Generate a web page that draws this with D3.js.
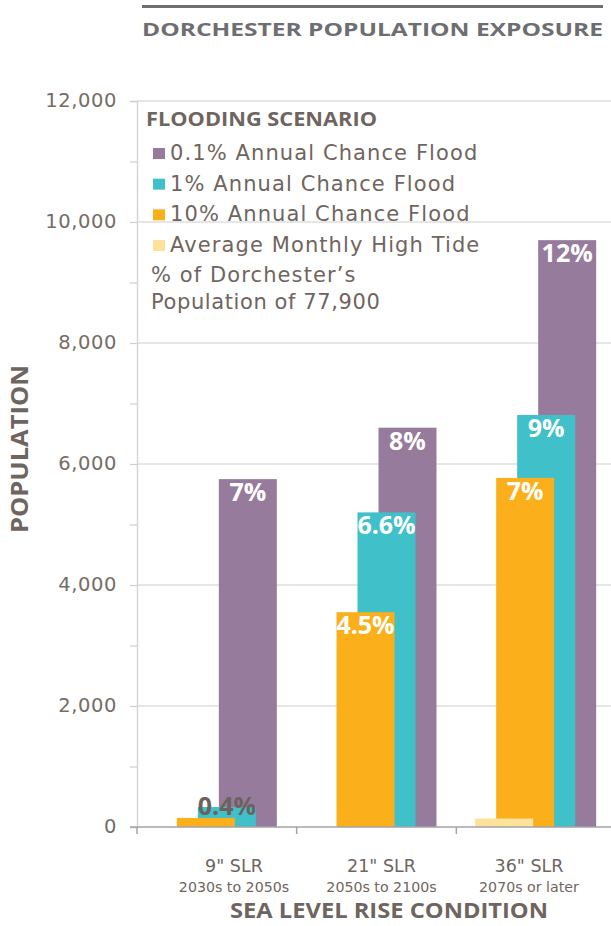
<!DOCTYPE html>
<html><head><meta charset="utf-8">
<script src="https://cdn.jsdelivr.net/npm/d3@7"></script>
<style>body{margin:0;background:#fff}svg{display:block}</style>
</head><body>
<script>
const categories = ['9" SLR', '21" SLR', '36" SLR'];
const categorySubs = ['2030s to 2050s', '2050s to 2100s', '2070s or later'];
const seriesNames = ['Average Monthly High Tide', '10% Annual Chance Flood', '1% Annual Chance Flood', '0.1% Annual Chance Flood'];
const highTide = [0, 0, 140];
const flood10 = [150, 3550, 5770];
const flood1 = [330, 5200, 6810];
const flood01 = [5750, 6600, 9700];
const labels10 = [null, '4.5%', '7%'];
const labels1 = ['0.4%', '6.6%', '9%'];
const labels01 = ['7%', '8%', '12%'];
const yTicks = [0, 2000, 4000, 6000, 8000, 10000, 12000];
const colors = ['#fde29c', '#fbaf1a', '#40c0c9', '#977b9d'];

const W = 611, H = 926;
const svg = d3.select('body').append('svg').attr('width', W).attr('height', H);
const txt = '#6f6560';

const y = d3.scaleLinear().domain([0, 12000]).range([827, 101]);
const x = d3.scaleBand().domain(categories).range([137, 616]).padding(0);
const xSub = d3.scalePoint().domain(seriesNames).range([-61, 2]);
const xLab = d3.scalePoint().domain(categories).range([234, 529]);
const barW = 58;

// title
svg.append('line').attr('x1', 142).attr('x2', 603).attr('y1', 6.5).attr('y2', 6.5)
  .attr('stroke', '#6d6e71').attr('stroke-width', 3);
svg.append('text').attr('x', 142).attr('y', 36).attr('textLength', 461).attr('lengthAdjust', 'spacingAndGlyphs')
  .attr('font-family', 'Open Sans').attr('font-weight', 700).attr('font-size', 18.5).attr('fill', '#6d6e71')
  .text('DORCHESTER POPULATION EXPOSURE');

// gridlines
svg.append('g').selectAll('line').data(yTicks.filter(d => d > 0)).join('line')
  .attr('x1', 137).attr('x2', W).attr('y1', d => y(d)).attr('y2', d => y(d))
  .attr('stroke', '#dedede').attr('stroke-width', 1.5);

// y axis
const minor = d3.range(0, 12001, 1000);
const yAxis = svg.append('g').attr('transform', 'translate(137,0)')
  .call(d3.axisLeft(y).tickValues(minor).tickSize(7).tickPadding(13)
    .tickFormat(d => d % 2000 === 0 ? d3.format(',')(d) : ''));
yAxis.select('.domain').attr('stroke', '#d6d6d6').attr('stroke-width', 1.5);
yAxis.selectAll('.tick line').attr('stroke', '#cfcfcf').attr('stroke-width', 1.2);
yAxis.selectAll('.tick text').attr('font-family', 'DejaVu Sans').attr('font-size', 19.5)
  .attr('letter-spacing', 0.6).attr('fill', '#766c67').attr('dy', '0.3em');

svg.append('text').attr('transform', 'translate(28,449) rotate(-90)').attr('text-anchor', 'middle')
  .attr('textLength', 168).attr('lengthAdjust', 'spacingAndGlyphs')
  .attr('font-family', 'Open Sans').attr('font-weight', 700).attr('font-size', 24).attr('fill', txt)
  .text('POPULATION');

// bars
const seriesVals = [highTide, flood10, flood1, flood01];
const seriesLabels = [categories.map(() => null), labels10, labels1, labels01];
const drawOrder = [3, 2, 1, 0];
drawOrder.forEach(si => {
  const data = categories.map((c, i) => ({c, v: seriesVals[si][i], l: seriesLabels[si][i]}));
  svg.append('g').selectAll('rect').data(data.filter(d => d.v > 0)).join('rect')
    .attr('x', d => x(d.c) + x.bandwidth() / 2 + xSub(seriesNames[si]))
    .attr('y', d => y(d.v)).attr('width', barW).attr('height', d => y(0) - y(d.v))
    .attr('fill', colors[si]);
});
drawOrder.forEach(si => {
  const data = categories.map((c, i) => ({c, v: seriesVals[si][i], l: seriesLabels[si][i]}));
  svg.append('g').selectAll('text').data(data.filter(d => d.l)).join('text')
    .attr('x', d => x(d.c) + x.bandwidth() / 2 + xSub(seriesNames[si]) + barW / 2)
    .attr('y', d => (y(0) - y(d.v) > 40) ? y(d.v) + 22 : y(d.v) + 8)
    .attr('text-anchor', 'middle').attr('font-family', 'Open Sans').attr('font-weight', 700)
    .attr('font-size', 25)
    .attr('fill', d => (y(0) - y(d.v) > 40) ? '#ffffff' : '#6b625e')
    .text(d => d.l);
});

// x axis
svg.append('line').attr('x1', 130).attr('x2', W).attr('y1', 827).attr('y2', 827)
  .attr('stroke', '#a3a3a3').attr('stroke-width', 1.5);
svg.append('g').selectAll('line').data(categories).join('line')
  .attr('x1', d => x(d)).attr('x2', d => x(d)).attr('y1', 827).attr('y2', 834)
  .attr('stroke', '#a3a3a3').attr('stroke-width', 1.5);
svg.append('g').selectAll('text').data(categories).join('text')
  .attr('x', d => xLab(d)).attr('y', 872).attr('text-anchor', 'middle')
  .attr('font-family', 'DejaVu Sans').attr('font-size', 17.5).attr('fill', txt).text(d => d);
svg.append('g').selectAll('text').data(categorySubs).join('text')
  .attr('x', (d, i) => xLab(categories[i])).attr('y', 892).attr('text-anchor', 'middle')
  .attr('font-family', 'DejaVu Sans').attr('font-size', 14.2).attr('fill', txt).text(d => d);
svg.append('text').attr('x', 389).attr('y', 918).attr('text-anchor', 'middle')
  .attr('textLength', 318).attr('lengthAdjust', 'spacingAndGlyphs')
  .attr('font-family', 'Open Sans').attr('font-weight', 700).attr('font-size', 21).attr('fill', txt)
  .text('SEA LEVEL RISE CONDITION');

// legend
const lg = svg.append('g');
lg.append('text').attr('x', 146).attr('y', 126).attr('textLength', 231).attr('lengthAdjust', 'spacingAndGlyphs')
  .attr('font-family', 'Open Sans').attr('font-weight', 700).attr('font-size', 20).attr('fill', txt)
  .text('FLOODING SCENARIO');
const legendOrder = [3, 2, 1, 0];
const rowY = d3.scalePoint().domain(legendOrder).range([160, 252]);
legendOrder.forEach(si => {
  lg.append('rect').attr('x', 153).attr('y', rowY(si) - 12).attr('width', 12).attr('height', 11).attr('fill', colors[si]);
  lg.append('text').attr('x', 170).attr('y', rowY(si)).attr('font-family', 'DejaVu Sans').attr('font-size', 21)
    .attr('letter-spacing', 1.1).attr('fill', txt).text(seriesNames[si]);
});
lg.append('text').attr('x', 151).attr('y', 282).attr('font-family', 'DejaVu Sans').attr('font-size', 21)
  .attr('letter-spacing', 1.1).attr('fill', txt).text('% of Dorchester’s');
lg.append('text').attr('x', 151).attr('y', 309).attr('font-family', 'DejaVu Sans').attr('font-size', 21)
  .attr('letter-spacing', 0.6).attr('fill', txt).text('Population of 77,900');
</script>
</body></html>
